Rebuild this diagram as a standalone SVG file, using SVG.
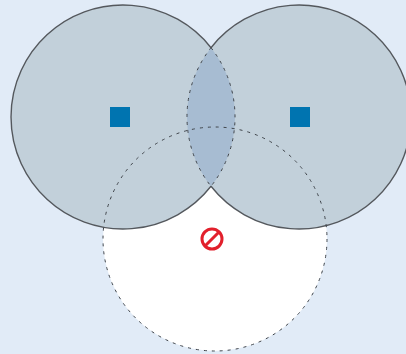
<svg xmlns="http://www.w3.org/2000/svg" width="406" height="354" viewBox="0 0 406 354">
<style>
.dash{fill:none;stroke:#3f444a;stroke-width:1;stroke-dasharray:3 5}
.ap{fill:#0074b0}
</style>
<rect width="406" height="354" fill="#e1ebf7"/>
<g id="forbidden-zone"><circle cx="215" cy="239" r="112" fill="#fff"/></g>
<g id="coverage-union"><path d="M211 47.7A112 112 0 1 0 211 186.3A112 112 0 1 0 211 47.7Z" fill="#c2d0da" stroke="#54585d" stroke-width="1.4"/></g>
<g id="overlap"><path d="M211 47.7A112 112 0 0 1 211 186.3A112 112 0 0 1 211 47.7Z" fill="#a7bcd2"/><path class="dash" d="M211 47.7A112 112 0 0 1 211 186.3A112 112 0 0 1 211 47.7Z"/></g>
<g id="forbidden-outline"><circle class="dash" cx="215" cy="239" r="112"/></g>
<g id="node-left"><rect class="ap" x="110" y="107" width="20" height="20"/></g>
<g id="node-right"><rect class="ap" x="290" y="107" width="20" height="20"/></g>
<g id="blocked"><circle cx="212" cy="239" r="10" fill="none" stroke="#e2202c" stroke-width="3"/><line x1="205" y1="246" x2="219" y2="232" stroke="#e2202c" stroke-width="3"/></g>
<g id="connectors"/>
</svg>
